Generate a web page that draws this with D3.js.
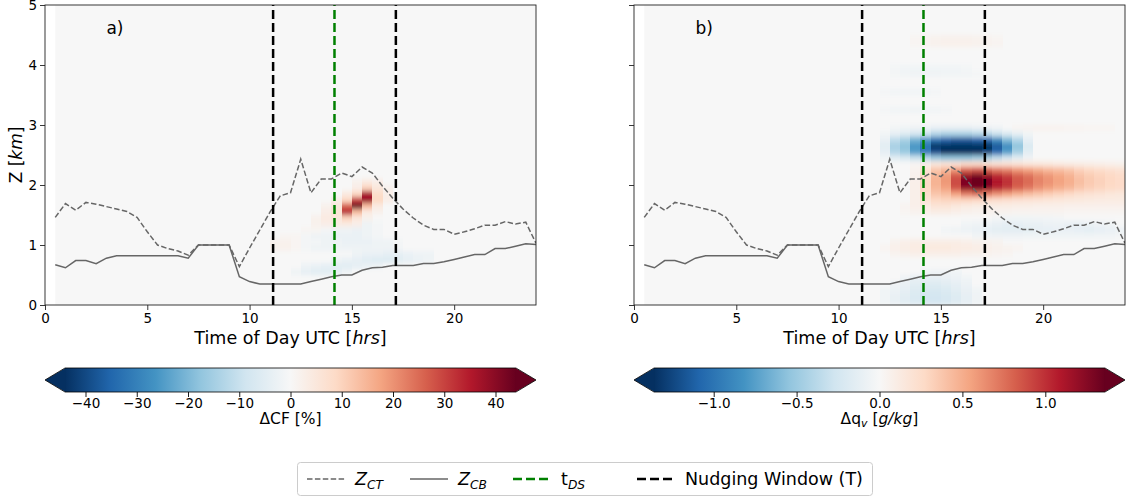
<!DOCTYPE html>
<html>
<head>
<meta charset="utf-8">
<script src="https://cdn.jsdelivr.net/npm/d3@7"></script>
<style>
  body { margin: 0; background: #fff; }
  svg { font-family: "DejaVu Sans", sans-serif; }
</style>
</head>
<body>
<svg id="fig" width="1129" height="497"></svg>
<script>
// half-hourly times of the cloud boundary series
const hours = [0.5, 1, 1.5, 2, 2.5, 3, 3.5, 4, 4.5, 5, 5.5, 6, 6.5, 7, 7.5, 8, 8.5, 9, 9.5, 10,
  10.5, 11, 11.5, 12, 12.5, 13, 13.5, 14, 14.5, 15, 15.5, 16, 16.5, 17, 17.5, 18, 18.5, 19, 19.5, 20,
  20.5, 21, 21.5, 22, 22.5, 23, 23.5, 24];

// cloud top (Z_CT) and cloud base (Z_CB) in km
const cloudTop = [1.46, 1.69, 1.58, 1.71, 1.68, 1.64, 1.6, 1.56, 1.46, 1.22, 1.0, 0.94, 0.9, 0.83, 1.0, 1.0,
  1.0, 1.0, 0.64, 0.95, 1.25, 1.55, 1.82, 1.87, 2.43, 1.87, 2.1, 2.1, 2.2, 2.14, 2.3, 2.2,
  1.98, 1.78, 1.6, 1.45, 1.33, 1.26, 1.26, 1.18, 1.22, 1.27, 1.33, 1.33, 1.39, 1.35, 1.38, 1.03];
const cloudBase = [0.67, 0.62, 0.74, 0.74, 0.69, 0.78, 0.82, 0.82, 0.82, 0.82, 0.82, 0.82, 0.82, 0.78, 1.0, 1.0,
  1.0, 1.0, 0.47, 0.39, 0.35, 0.35, 0.35, 0.35, 0.35, 0.39, 0.43, 0.47, 0.5, 0.5, 0.58, 0.62,
  0.63, 0.66, 0.66, 0.66, 0.69, 0.69, 0.72, 0.76, 0.8, 0.84, 0.84, 0.94, 0.94, 0.98, 1.02, 1.01];

// nudging window and t_DS (hours UTC)
const nudgeWindow = [11.15, 17.15];
const tDS = 14.15;

const xTicks = [0, 5, 10, 15, 20];
const zTicks = [0, 1, 2, 3, 4, 5];
const cfTicks = [-40, -30, -20, -10, 0, 10, 20, 30, 40];
const qvTicks = [-1, -0.5, 0, 0.5, 1];

// difference fields: [bottom of 0.1 km layer, first half-hour bin, values ...]
const cfRows = [
  [0.5, 12.0, [-2, -4, -5, -5, -4, -2]],
  [0.6, 12.5, [-2, -3, -4, -5, -5, -4, -3, -2]],
  [0.7, 14.0, [-2, -3, -4, -5, -6, -6, -5, -4, -3, -2]],
  [0.8, 15.0, [-2, -3, -3, -4, -4, -3, -2, -2]],
  [0.9, 11.0, [2, 2, 1, -1, -2, -2, -2, -2, -2, -2, -2, -2, -1]],
  [1.0, 11.0, [2, 2, 1, -1, -1, -2, -2, -3, -3, -3, -2, -2, -1]],
  [1.1, 11.5, [1, 1, -1, -2, -2, -3, -3, -3, -2, -1]],
  [1.2, 12.5, [1, 1, -1, -2, -2, -3, -2, -1]],
  [1.3, 13.0, [2, 3, 4, 4, 3, -2, -1]],
  [1.4, 13.0, [2, 4, 5, 10, 5, 2]],
  [1.5, 13.5, [3, 6, 34, 14, 4, 2]],
  [1.6, 13.5, [2, 5, 26, 44, 14, 4]],
  [1.7, 14.0, [3, 9, 30, 38, 9, 3]],
  [1.8, 14.5, [4, 9, 36, 8, 3]],
  [1.9, 15.0, [3, 10, 5, 2]],
  [2.0, 15.0, [2, 4, 3]]
];

const qvRows = [
  [0.0, 12.0, [-0.05, -0.1, -0.15, -0.2, -0.25, -0.25, -0.22, -0.18, -0.12, -0.06]],
  [0.1, 12.0, [-0.05, -0.1, -0.15, -0.2, -0.25, -0.25, -0.22, -0.18, -0.12, -0.06]],
  [0.2, 12.0, [-0.05, -0.08, -0.12, -0.18, -0.22, -0.22, -0.2, -0.15, -0.1, -0.05]],
  [0.3, 12.5, [-0.06, -0.1, -0.15, -0.18, -0.18, -0.15, -0.12, -0.08]],
  [0.4, 13.0, [-0.06, -0.1, -0.12, -0.12, -0.1, -0.08, -0.05]],
  [0.5, 14.0, [-0.05, -0.06, -0.06, -0.05]],
  [0.8, 12.5, [0.04, 0.06, 0.08, 0.08, 0.08, 0.08, 0.08, 0.06, 0.06, 0.05, 0.04, 0.03]],
  [0.9, 12.0, [0.04, 0.08, 0.1, 0.12, 0.14, 0.14, 0.14, 0.12, 0.12, 0.1, 0.08, 0.06, 0.05, 0.04]],
  [1.0, 12.5, [0.05, 0.08, 0.1, 0.1, 0.1, 0.1, 0.1, 0.08, 0.06, 0.05, 0.04]],
  [1.1, 16.5, [-0.04, -0.05, -0.06, -0.06, -0.06, -0.05, -0.05, -0.05, -0.05, -0.05, -0.05, -0.05, -0.04, -0.04, -0.03]],
  [1.2, 15.0, [-0.04, -0.06, -0.08, -0.1, -0.12, -0.14, -0.15, -0.15, -0.14, -0.12, -0.12, -0.1, -0.1, -0.12, -0.14, -0.12, -0.1, -0.08]],
  [1.3, 16.0, [-0.04, -0.06, -0.08, -0.1, -0.12, -0.12, -0.1, -0.1, -0.08, -0.08, -0.1, -0.1, -0.08, -0.06, -0.04]],
  [1.4, 17.5, [-0.03, -0.04, -0.05, -0.05, -0.04, -0.04, -0.03]],
  [1.5, 13.0, [0.03, 0.05, 0.08, 0.1, 0.1, 0.08, 0.06, 0.05, 0.05, 0.05, 0.05, 0.04, 0.04, 0.04, 0.04, 0.04, 0.03, 0.03, 0.03, 0.03, 0.03, 0.03]],
  [1.6, 13.0, [0.04, 0.08, 0.12, 0.18, 0.18, 0.15, 0.12, 0.1, 0.1, 0.1, 0.1, 0.09, 0.09, 0.08, 0.08, 0.08, 0.07, 0.07, 0.07, 0.07, 0.07, 0.07]],
  [1.7, 13.5, [0.08, 0.2, 0.28, 0.3, 0.3, 0.3, 0.28, 0.26, 0.24, 0.22, 0.2, 0.19, 0.18, 0.17, 0.16, 0.15, 0.14, 0.13, 0.12, 0.12, 0.12]],
  [1.8, 13.5, [0.08, 0.25, 0.38, 0.42, 0.55, 0.7, 0.75, 0.7, 0.62, 0.55, 0.48, 0.42, 0.38, 0.34, 0.3, 0.26, 0.22, 0.2, 0.18, 0.16, 0.15]],
  [1.9, 13.5, [0.08, 0.28, 0.45, 0.55, 0.85, 1.2, 1.3, 1.2, 1.05, 0.95, 0.8, 0.72, 0.62, 0.56, 0.5, 0.45, 0.38, 0.33, 0.3, 0.27, 0.25]],
  [2.0, 13.5, [0.08, 0.28, 0.48, 0.6, 0.9, 1.3, 1.4, 1.3, 1.1, 1.0, 0.85, 0.78, 0.68, 0.62, 0.55, 0.5, 0.42, 0.36, 0.32, 0.28, 0.26]],
  [2.1, 13.5, [0.06, 0.26, 0.46, 0.58, 0.85, 1.2, 1.3, 1.2, 1.05, 0.95, 0.82, 0.75, 0.66, 0.6, 0.54, 0.48, 0.4, 0.35, 0.31, 0.28, 0.25]],
  [2.2, 13.5, [0.05, 0.2, 0.38, 0.45, 0.6, 0.8, 0.85, 0.8, 0.72, 0.68, 0.6, 0.55, 0.5, 0.45, 0.42, 0.38, 0.32, 0.28, 0.25, 0.22, 0.2]],
  [2.3, 13.5, [0.03, 0.08, 0.15, 0.18, 0.2, 0.25, 0.25, 0.22, 0.2, 0.2, 0.18, 0.16, 0.15, 0.14, 0.12, 0.11, 0.1, 0.09, 0.08, 0.07, 0.06]],
  [2.4, 12.0, [-0.04, -0.15, -0.2, -0.3, -0.4, -0.5, -0.55, -0.55, -0.55, -0.5, -0.45, -0.35, -0.25, -0.15, -0.06]],
  [2.5, 12.0, [-0.12, -0.4, -0.5, -0.75, -0.95, -1.2, -1.35, -1.4, -1.4, -1.35, -1.25, -1.05, -0.75, -0.45, -0.15]],
  [2.6, 12.0, [-0.15, -0.45, -0.55, -0.8, -1.0, -1.35, -1.45, -1.45, -1.45, -1.45, -1.4, -1.15, -0.85, -0.55, -0.2]],
  [2.7, 12.0, [-0.1, -0.35, -0.45, -0.65, -0.8, -1.0, -1.1, -1.15, -1.15, -1.1, -1.05, -0.85, -0.6, -0.4, -0.12]],
  [2.8, 12.0, [-0.04, -0.12, -0.18, -0.25, -0.3, -0.4, -0.45, -0.45, -0.45, -0.4, -0.38, -0.3, -0.2, -0.12, -0.05]],
  [2.9, 12.5, [-0.03, -0.05, -0.06, -0.08, -0.1, -0.1, -0.1, -0.1, -0.08, -0.06, -0.04]],
  [2.9, 18.5, [0.03, 0.04, 0.05, 0.05, 0.05, 0.04, 0.04, 0.03, 0.03, 0.03]],
  [3.2, 12.0, [-0.03, -0.05, -0.05, -0.06, -0.05, -0.04, -0.03]],
  [3.5, 12.0, [-0.03, -0.04, -0.05, -0.05, -0.04, -0.03]],
  [3.8, 12.5, [-0.03, -0.05, -0.06, -0.06, -0.06, -0.05, -0.05, -0.04, -0.03]],
  [3.9, 12.5, [-0.03, -0.04, -0.05, -0.05, -0.05, -0.04, -0.04, -0.03]],
  [4.3, 13.5, [0.03, 0.05, 0.06, 0.07, 0.07, 0.07, 0.06, 0.05, 0.04]],
  [4.4, 13.5, [0.03, 0.04, 0.05, 0.06, 0.06, 0.06, 0.05, 0.04, 0.03]]
];

// matplotlib RdBu_r
const rdbu = ["#053061", "#2166ac", "#4393c3", "#92c5de", "#d1e5f0", "#f7f7f7",
  "#fddbc7", "#f4a582", "#d6604d", "#b2182b", "#67001f"];

const svg = d3.select("#fig");
const defs = svg.append("defs");
defs.append("filter").attr("id", "vblur")
  .attr("x", "-2%").attr("y", "-10%").attr("width", "104%").attr("height", "120%")
  .append("feGaussianBlur").attr("stdDeviation", "0 2.5");

const axTop = 5, axBottom = 305, axW = 491;
const tickFs = 13.5, labFs = 17.5, cbFs = 15.5;
const lineGray = "#666";

// text with italic / subscript pieces
function rich(txt, parts, fs) {
  let shift = 0;
  parts.forEach(([s, it, sub]) => {
    const ts = txt.append("tspan").text(s);
    if (it) ts.attr("font-style", "italic");
    if (sub) ts.attr("font-size", fs * 0.7);
    const target = sub ? fs * 0.22 : 0;
    if (target !== shift) { ts.attr("dy", target - shift); shift = target; }
  });
}

const panels = [
  { left: 45, rows: cfRows, vmax: 44, letter: "a)", ticks: cfTicks, fmt: d3.format("d"),
    cbLabel: [["ΔCF [%]"]], yLabels: true },
  { left: 634, rows: qvRows, vmax: 1.36, letter: "b)", ticks: qvTicks, fmt: d3.format(".1f"),
    cbLabel: [["Δq"], ["v", true, true], [" ["], ["g/kg", true], ["]"]], yLabels: false }
];

panels.forEach((p, pi) => {
  const x = d3.scaleLinear().domain([0, 24]).range([p.left, p.left + axW]);
  const y = d3.scaleLinear().domain([0, 5]).range([axBottom, axTop]);
  const color = d3.scaleLinear()
    .domain(rdbu.map((c, i) => -p.vmax + i * p.vmax / 5))
    .range(rdbu).clamp(true);

  const clipId = "clip" + pi;
  defs.append("clipPath").attr("id", clipId)
    .append("rect").attr("x", x(0)).attr("y", y(5))
    .attr("width", x(24) - x(0)).attr("height", y(0) - y(5));

  const ax = svg.append("g");
  const field = ax.append("g").attr("clip-path", `url(#${clipId})`);
  field.append("rect")
    .attr("x", x(0.5)).attr("y", y(5))
    .attr("width", x(24) - x(0.5)).attr("height", y(0) - y(5))
    .attr("fill", color(0));

  const cells = [];
  p.rows.forEach(([z, t0, vals]) => vals.forEach((v, i) => cells.push({ z, t: t0 + i * 0.5, v })));
  field.append("g").attr("filter", "url(#vblur)")
    .selectAll("rect").data(cells).join("rect")
    .attr("x", d => x(d.t))
    .attr("width", d => x(d.t + 0.5) - x(d.t) + 0.4)
    .attr("y", d => y(d.z + 0.1))
    .attr("height", d => y(d.z) - y(d.z + 0.1) + 0.4)
    .attr("fill", d => color(d.v))
    .attr("shape-rendering", "crispEdges");

  // cloud boundaries
  const line = d3.line().x((d, i) => x(hours[i])).y(d => y(d));
  field.append("path").datum(cloudBase).attr("d", line)
    .attr("fill", "none").attr("stroke", lineGray).attr("stroke-width", 1.5);
  field.append("path").datum(cloudTop).attr("d", line)
    .attr("fill", "none").attr("stroke", lineGray).attr("stroke-width", 1.5)
    .attr("stroke-dasharray", "5.5,2.4");

  // nudging window and t_DS
  nudgeWindow.forEach(t => {
    field.append("line").attr("x1", x(t)).attr("x2", x(t)).attr("y1", y(0)).attr("y2", y(5))
      .attr("stroke", "#000").attr("stroke-width", 2.5).attr("stroke-dasharray", "9,4");
  });
  field.append("line").attr("x1", x(tDS)).attr("x2", x(tDS)).attr("y1", y(0)).attr("y2", y(5))
    .attr("stroke", "green").attr("stroke-width", 2.5).attr("stroke-dasharray", "9,4");

  // axes
  const xAxis = ax.append("g").attr("transform", `translate(0,${axBottom})`)
    .call(d3.axisBottom(x).tickValues(xTicks).tickSize(5).tickPadding(3).tickSizeOuter(0));
  const yAxis = ax.append("g").attr("transform", `translate(${p.left},0)`)
    .call(d3.axisLeft(y).tickValues(zTicks).tickSize(5).tickPadding(3).tickSizeOuter(0)
      .tickFormat(p.yLabels ? d3.format("d") : ""));
  [xAxis, yAxis].forEach(g => {
    g.select(".domain").remove();
    g.selectAll("line").attr("stroke", "#222").attr("stroke-width", 0.9);
    g.selectAll("text").attr("font-size", tickFs).attr("fill", "#000")
      .attr("font-family", "DejaVu Sans");
  });
  ax.append("rect").attr("x", x(0)).attr("y", y(5))
    .attr("width", x(24) - x(0)).attr("height", y(0) - y(5))
    .attr("fill", "none").attr("stroke", "#222").attr("stroke-width", 0.9);

  ax.append("text").attr("x", x(3)).attr("y", 34).attr("font-size", 17).text(p.letter);

  const xl = ax.append("text").attr("x", x(12)).attr("y", 344)
    .attr("text-anchor", "middle").attr("font-size", labFs);
  rich(xl, [["Time of Day UTC ["], ["hrs", true], ["]"]], labFs);

  if (p.yLabels) {
    const yl = ax.append("text")
      .attr("transform", `translate(22,${y(2.5)}) rotate(-90)`)
      .attr("text-anchor", "middle").attr("font-size", 17);
    rich(yl, [["Z ["], ["km", true], ["]"]], 17);
  }

  // colorbar
  const cbTop = 368, cbH = 24, ext = 20;
  const cx = d3.scaleLinear().domain([-p.vmax, p.vmax]).range([p.left + ext, p.left + axW - ext]);
  const gradId = "grad" + pi;
  const grad = defs.append("linearGradient").attr("id", gradId);
  rdbu.forEach((c, i) => grad.append("stop").attr("offset", i / 10).attr("stop-color", c));
  const cb = svg.append("g");
  cb.append("rect").attr("x", cx(-p.vmax)).attr("y", cbTop)
    .attr("width", cx(p.vmax) - cx(-p.vmax)).attr("height", cbH).attr("fill", `url(#${gradId})`);
  cb.append("path")
    .attr("d", `M${cx(-p.vmax) + 0.5},${cbTop}L${p.left},${cbTop + cbH / 2}L${cx(-p.vmax) + 0.5},${cbTop + cbH}Z`)
    .attr("fill", rdbu[0]);
  cb.append("path")
    .attr("d", `M${cx(p.vmax) - 0.5},${cbTop}L${p.left + axW},${cbTop + cbH / 2}L${cx(p.vmax) - 0.5},${cbTop + cbH}Z`)
    .attr("fill", rdbu[10]);
  cb.append("path")
    .attr("d", `M${cx(-p.vmax)},${cbTop}L${cx(p.vmax)},${cbTop}L${p.left + axW},${cbTop + cbH / 2}` +
      `L${cx(p.vmax)},${cbTop + cbH}L${cx(-p.vmax)},${cbTop + cbH}L${p.left},${cbTop + cbH / 2}Z`)
    .attr("fill", "none").attr("stroke", "#000").attr("stroke-width", 0.8);
  const cAxis = cb.append("g").attr("transform", `translate(0,${cbTop + cbH})`)
    .call(d3.axisBottom(cx).tickValues(p.ticks).tickFormat(p.fmt).tickSize(5).tickPadding(1.5).tickSizeOuter(0));
  cAxis.select(".domain").remove();
  cAxis.selectAll("line").attr("stroke", "#000").attr("stroke-width", 0.9);
  cAxis.selectAll("text").attr("font-size", tickFs).attr("fill", "#000").attr("font-family", "DejaVu Sans");
  const cl = cb.append("text").attr("x", x(12)).attr("y", 424)
    .attr("text-anchor", "middle").attr("font-size", cbFs);
  rich(cl, p.cbLabel, cbFs);
});

// legend
const lg = svg.append("g");
lg.append("rect").attr("x", 297.5).attr("y", 462.5).attr("width", 575).attr("height", 33)
  .attr("rx", 3).attr("fill", "#fff").attr("stroke", "#ccc");
const legendItems = [
  { x: 307, stroke: lineGray, w: 1.5, dash: "5.5,2.4", label: [["Z", true], ["CT", true, true]] },
  { x: 410, stroke: lineGray, w: 1.5, dash: null, label: [["Z", true], ["CB", true, true]] },
  { x: 513, stroke: "green", w: 2.5, dash: "9,4", label: [["t"], ["DS", true, true]] },
  { x: 637, stroke: "#000", w: 2.5, dash: "9,4", label: [["Nudging Window (T)"]] }
];
legendItems.forEach(it => {
  lg.append("line").attr("x1", it.x).attr("x2", it.x + 38).attr("y1", 479).attr("y2", 479)
    .attr("stroke", it.stroke).attr("stroke-width", it.w).attr("stroke-dasharray", it.dash);
  const t = lg.append("text").attr("x", it.x + 48).attr("y", 485).attr("font-size", labFs);
  rich(t, it.label, labFs);
});
</script>
</body>
</html>
